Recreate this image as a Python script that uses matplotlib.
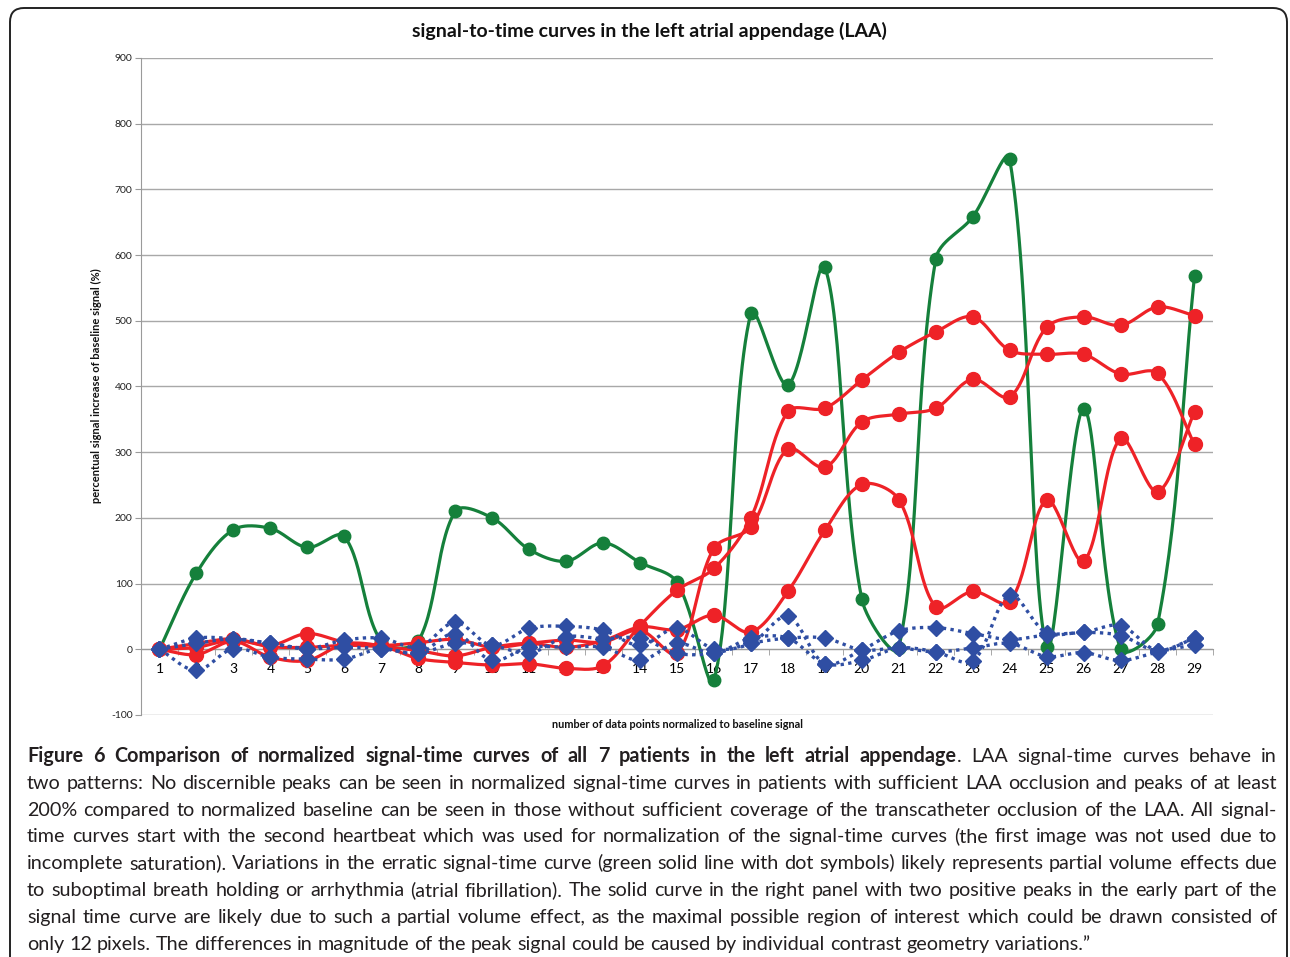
import matplotlib
matplotlib.use("Agg")
import matplotlib.pyplot as plt
import numpy as np
from matplotlib.patches import FancyBboxPatch
from matplotlib.transforms import IdentityTransform

# data (percent increase vs. data point)
points = np.arange(1, 30)
green = [0, 116, 182, 184, 155, 172, 12, 12, 210, 200, 152, 134, 162, 132, 102,
         -47, 512, 402, 582, 76, 2, 594, 658, 746, 3, 366, 0, 38, 568]
red_a = [0, -8, 12, -12, -17, 8, 5, -14, -20, -24, -22, -29, -25, 36, 90,
         123, 200, 362, 367, 410, 452, 483, 506, 455, 449, 449, 419, 420, 312]
red_b = [0, 9, 16, 6, 24, 11, 6, 10, 15, 3, 9, 14, 11, 29, -6,
         154, 186, 305, 277, 346, 358, 367, 411, 384, 490, 506, 493, 521, 508]
red_c = [0, 3, 14, 4, 3, 6, 4, -2, -10, 3, 9, 3, 13, 34, 30,
         52, 26, 88, 181, 251, 228, 64, 88, 72, 227, 134, 321, 240, 361]
blue_a = [0, -32, 1, -12, -15, -15, 1, -6, 24, -17, 3, 3, 3, -17, 9,
          -6, 17, 17, -22, -17, 2, -4, -18, 82, 25, 26, 21, -2, 17]
blue_b = [0, 17, 16, 9, 1, 14, 17, 3, 41, 6, 32, 35, 29, 6, 32,
          1, 9, 50, -22, -1, 28, 33, 24, 15, 22, 26, 36, -2, 17]
blue_c = [0, 9, 16, 9, 1, 3, 1, -6, 9, 6, -6, 19, 16, 17, -6,
          -6, 9, 17, 17, -1, 2, -4, 2, 9, -11, -5, -17, -4, 7]
y_ticks = np.arange(-100, 901, 100)

title = "signal-to-time curves in the left atrial appendage (LAA)"
ylabel = "percentual signal increase of baseline signal (%)"
xlabel = "number of data points normalized to baseline signal"

caption = [
    [("Figure 6 Comparison of normalized signal-time curves of all 7 patients in the left atrial appendage", "bold"),
     (". LAA signal-time curves behave in", "normal")],
    [("two patterns: No discernible peaks can be seen in normalized signal-time curves in patients with sufficient LAA occlusion and peaks of at least", "normal")],
    [("200% compared to normalized baseline can be seen in those without sufficient coverage of the transcatheter occlusion of the LAA. All signal-", "normal")],
    [("time curves start with the second heartbeat which was used for normalization of the signal-time curves (the first image was not used due to", "normal")],
    [("incomplete saturation). Variations in the erratic signal-time curve (green solid line with dot symbols) likely represents partial volume effects due", "normal")],
    [("to suboptimal breath holding or arrhythmia (atrial fibrillation). The solid curve in the right panel with two positive peaks in the early part of the", "normal")],
    [("signal time curve are likely due to such a partial volume effect, as the maximal possible region of interest which could be drawn consisted of", "normal")],
    [("only 12 pixels. The differences in magnitude of the peak signal could be caused by individual contrast geometry variations.\u201d", "normal")],
]

plt.rcParams['font.family'] = ['Lato', 'DejaVu Sans']

W, H = 1290, 957
fig = plt.figure(figsize=(W / 100, H / 100), dpi=100)
ax = fig.add_axes([141 / W, 1 - 715 / H, (1213 - 141) / W, (715 - 58) / H])
ax.set_xlim(0.5, 29.5)
ax.set_ylim(-100, 900)


def smooth(x, y, n=30):
    # Excel-like smoothed line, built in screen space
    pts = ax.transData.transform(np.column_stack([x, y]).astype(float))
    p = np.vstack([pts[:1], pts, pts[-1:]])
    t = np.linspace(0, 1, n)[:, None]
    out = []
    for i in range(len(pts) - 1):
        p0, p1, p2, p3 = p[i], p[i + 1], p[i + 2], p[i + 3]
        d01 = np.hypot(*(p1 - p0))
        d12 = np.hypot(*(p2 - p1))
        d23 = np.hypot(*(p3 - p2))
        f1 = d12 / (d01 + d12) / 3 if d01 + d12 > 0 else 0
        f2 = d12 / (d12 + d23) / 3 if d12 + d23 > 0 else 0
        c1 = p1 + (p2 - p0) * f1
        c2 = p2 - (p3 - p1) * f2
        seg = (1 - t) ** 3 * p1 + 3 * (1 - t) ** 2 * t * c1 + 3 * (1 - t) * t ** 2 * c2 + t ** 3 * p2
        out.append(seg)
    out = np.vstack(out)
    back = ax.transData.inverted().transform(out)
    return back[:, 0], back[:, 1]


c_green = '#15803b'
c_red = '#ee2227'
c_blue = '#2f4ea3'

sx, sy = smooth(points, green)
ax.plot(sx, sy, color=c_green, lw=2.3, zorder=3)
ax.plot(points, green, 'o', color=c_green, ms=9, zorder=3)

for ser in [red_a, red_b, red_c]:
    sx, sy = smooth(points, ser)
    ax.plot(sx, sy, color=c_red, lw=2.3, zorder=4)
    ax.plot(points, ser, 'o', color=c_red, ms=10, zorder=4)

for ser in [blue_a, blue_b, blue_c]:
    sx, sy = smooth(points, ser)
    ax.plot(sx, sy, color=c_blue, lw=2.4, linestyle=(0, (1, 1.3)), zorder=5)
    ax.plot(points, ser, 'D', color=c_blue, ms=8, zorder=5)

ax.set_yticks(y_ticks)
ax.set_yticklabels([str(v) for v in y_ticks], fontsize=7.5, color='#222222')
ax.set_xticks(points)
ax.set_xticklabels([str(v) for v in points], fontsize=7.5, color='#222222')
ax.set_xticks(np.arange(0.5, 30, 1), minor=True)
ax.tick_params(axis='x', which='major', length=0, pad=10)
ax.tick_params(axis='x', which='minor', length=4, color='#9a9a9a', direction='out')
ax.tick_params(axis='y', length=4, color='#9a9a9a', pad=2)
ax.grid(axis='y', color='#a8a8a8', lw=1)
ax.set_axisbelow(True)
for s in ['top', 'right']:
    ax.spines[s].set_visible(False)
ax.spines['bottom'].set_position(('data', 0))
ax.spines['bottom'].set_color('#9a9a9a')
ax.spines['left'].set_color('#9a9a9a')

fig.text(649 / W, 1 - 31 / H, title, ha='center', va='center', fontsize=14, weight='bold', color='#111111')
fig.text(96 / W, 1 - 386 / H, ylabel, rotation=90, ha='center', va='center', fontsize=8, weight='bold', color='#111111')
fig.text(677 / W, 1 - 724 / H, xlabel, ha='center', va='center', fontsize=7.9, weight='bold', color='#111111')

# outer rounded frame
frame = FancyBboxPatch((10, -30), 1277, 979, boxstyle="round,pad=0,rounding_size=14",
                       transform=IdentityTransform(), fill=False, ec='#222222', lw=1.4)
fig.patches.append(frame)

# justified caption
renderer = fig.canvas.get_renderer()
cap_color = '#231f20'
left, right = 27, 1277


def text_width(s, weight, size):
    t = fig.text(0, 0, s, fontsize=size, weight=weight)
    w = t.get_window_extent(renderer).width
    t.remove()
    return w


def words_of(pieces):
    words = [[]]
    for text, weight in pieces:
        parts = text.split(" ")
        for k, p in enumerate(parts):
            if k > 0:
                words.append([])
            if p:
                words[-1].append((p, weight))
    return [w for w in words if w]


def natural(size):
    sp = text_width("a a", "normal", size) - text_width("aa", "normal", size)
    widest = 0
    for pieces in caption[:-1]:
        words = words_of(pieces)
        tot = sum(text_width(s, wt, size) for w in words for s, wt in w)
        widest = max(widest, tot + sp * (len(words) - 1))
    return widest


cap_size = 14.0
cap_size = cap_size * (right - left) / natural(cap_size) * 0.995

space = text_width("a a", "normal", cap_size) - text_width("aa", "normal", cap_size)
for li, pieces in enumerate(caption):
    words = words_of(pieces)
    widths = [[text_width(s, wt, cap_size) for s, wt in w] for w in words]
    total = sum(sum(w) for w in widths)
    if li < len(caption) - 1:
        gap = (right - left - total) / (len(words) - 1)
    else:
        gap = space
    base = H - (762 + li * 26.8)
    x = left
    for w, ws in zip(words, widths):
        for (s, wt), pw in zip(w, ws):
            fig.text(x / W, base / H, s, fontsize=cap_size, weight=wt, color=cap_color,
                     ha='left', va='baseline')
            x += pw
        x += gap

fig.savefig("out.png", dpi=100)
